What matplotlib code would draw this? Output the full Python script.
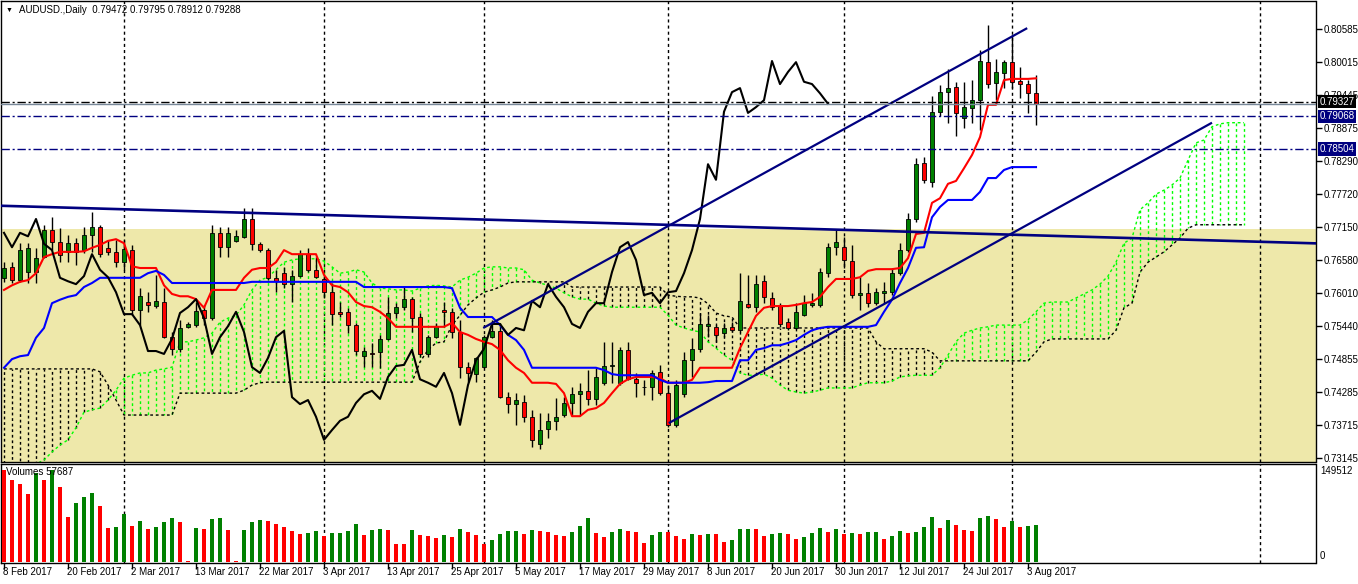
import numpy as np
import matplotlib
matplotlib.use("Agg")
import matplotlib.pyplot as plt
from matplotlib.collections import LineCollection

plt.rcParams['font.family'] = ['Liberation Sans', 'DejaVu Sans']

# AUDUSD daily candles, 8 Feb 2017 .. 4 Aug 2017
opens = [
    0.7627, 0.7646, 0.7623, 0.7637, 0.7637, 0.7663, 0.7710, 0.7689, 0.7672, 0.7687,
    0.7675, 0.7701, 0.7715, 0.7679, 0.7672, 0.7654, 0.7675, 0.7571, 0.7585, 0.7578,
    0.7585, 0.7524, 0.7504, 0.7542, 0.7545, 0.7571, 0.7557, 0.7705, 0.7680, 0.7691,
    0.7698, 0.7729, 0.7686, 0.7675, 0.7627, 0.7635, 0.7616, 0.7630, 0.7668, 0.7641,
    0.7625, 0.7602, 0.7568, 0.7568, 0.7545, 0.7491, 0.7496, 0.7498, 0.7521, 0.7566,
    0.7576, 0.7590, 0.7559, 0.7495, 0.7524, 0.7571, 0.7568, 0.7533, 0.7472, 0.7460,
    0.7472, 0.7524, 0.7535, 0.7420, 0.7408, 0.7412, 0.7386, 0.7339, 0.7365, 0.7379,
    0.7389, 0.7410, 0.7425, 0.7431, 0.7417, 0.7445, 0.7474, 0.7445, 0.7502, 0.7451,
    0.7438, 0.7438, 0.7464, 0.7427, 0.7372, 0.7425, 0.7484, 0.7504, 0.7543, 0.7542,
    0.7531, 0.7542, 0.7536, 0.7582, 0.7576, 0.7621, 0.7592, 0.7578, 0.7550, 0.7540,
    0.7562, 0.7580, 0.7580, 0.7635, 0.7680, 0.7680, 0.7656, 0.7597, 0.7601, 0.7583,
    0.7601, 0.7602, 0.7635, 0.7675, 0.7729, 0.7826, 0.7793, 0.7915, 0.7949, 0.7958,
    0.7904, 0.7922, 0.7935, 0.8001, 0.7965, 0.7982, 0.8001, 0.7968, 0.7963, 0.79472]
highs = [
    0.7654, 0.7654, 0.7687, 0.7687, 0.7679, 0.7719, 0.7732, 0.7713, 0.7701, 0.7696,
    0.7715, 0.7741, 0.7719, 0.7693, 0.7693, 0.7693, 0.7684, 0.7609, 0.7602, 0.7632,
    0.7609, 0.7533, 0.7554, 0.7550, 0.7585, 0.7580, 0.7719, 0.7715, 0.7715, 0.7710,
    0.7748, 0.7748, 0.7689, 0.7679, 0.7641, 0.7646, 0.7641, 0.7675, 0.7679, 0.7663,
    0.7628, 0.7618, 0.7585, 0.7575, 0.7549, 0.7507, 0.7514, 0.7528, 0.7594, 0.7583,
    0.7611, 0.7594, 0.7566, 0.7528, 0.7549, 0.7585, 0.7575, 0.7554, 0.7481, 0.7490,
    0.7528, 0.7554, 0.7549, 0.7429, 0.7427, 0.7424, 0.7398, 0.7393, 0.7393, 0.7419,
    0.7420, 0.7438, 0.7445, 0.7467, 0.7471, 0.7516, 0.7516, 0.7507, 0.7516, 0.7462,
    0.7450, 0.7467, 0.7476, 0.7441, 0.7450, 0.7498, 0.7523, 0.7566, 0.7562, 0.7545,
    0.7549, 0.7550, 0.7635, 0.7632, 0.7632, 0.7632, 0.7602, 0.7583, 0.7557, 0.7583,
    0.7597, 0.7601, 0.7644, 0.7687, 0.7710, 0.7698, 0.7684, 0.7628, 0.7618, 0.7609,
    0.7620, 0.7644, 0.7687, 0.7739, 0.7835, 0.7837, 0.7942, 0.7961, 0.7989, 0.7967,
    0.7967, 0.7970, 0.8022, 0.8065, 0.8006, 0.8005, 0.8048, 0.7993, 0.7970, 0.79795]
lows = [
    0.7620, 0.7618, 0.7620, 0.7618, 0.7618, 0.7661, 0.7675, 0.7654, 0.7654, 0.7649,
    0.7670, 0.7672, 0.7663, 0.7667, 0.7646, 0.7641, 0.7562, 0.7545, 0.7568, 0.7575,
    0.7523, 0.7493, 0.7498, 0.7540, 0.7542, 0.7545, 0.7554, 0.7663, 0.7663, 0.7689,
    0.7696, 0.7675, 0.7672, 0.7623, 0.7602, 0.7609, 0.7585, 0.7628, 0.7637, 0.7627,
    0.7592, 0.7545, 0.7559, 0.7531, 0.7493, 0.7472, 0.7472, 0.7471, 0.7519, 0.7557,
    0.7571, 0.7533, 0.7490, 0.7490, 0.7523, 0.7542, 0.7523, 0.7453, 0.7446, 0.7446,
    0.7471, 0.7523, 0.7419, 0.7393, 0.7372, 0.7377, 0.7334, 0.7330, 0.7349, 0.7363,
    0.7386, 0.7389, 0.7389, 0.7406, 0.7406, 0.7441, 0.7445, 0.7441, 0.7450, 0.7420,
    0.7424, 0.7415, 0.7424, 0.7368, 0.7368, 0.7420, 0.7455, 0.7498, 0.7524, 0.7516,
    0.7524, 0.7533, 0.7533, 0.7575, 0.7568, 0.7583, 0.7571, 0.7542, 0.7536, 0.7538,
    0.7561, 0.7576, 0.7576, 0.7628, 0.7667, 0.7644, 0.7592, 0.7571, 0.7576, 0.7580,
    0.7583, 0.7597, 0.7632, 0.7672, 0.7724, 0.7791, 0.7785, 0.7908, 0.7896, 0.7873,
    0.7887, 0.7896, 0.7883, 0.7956, 0.7935, 0.7956, 0.7956, 0.7939, 0.7913, 0.78912]
closes = [
    0.7644, 0.7623, 0.7675, 0.7679, 0.7661, 0.7710, 0.7689, 0.7667, 0.7687, 0.7672,
    0.7701, 0.7715, 0.7668, 0.7672, 0.7654, 0.7677, 0.7571, 0.7595, 0.7580, 0.7587,
    0.7524, 0.7504, 0.7540, 0.7547, 0.7569, 0.7557, 0.7705, 0.7680, 0.7705, 0.7699,
    0.7729, 0.7686, 0.7675, 0.7627, 0.7621, 0.7616, 0.7630, 0.7668, 0.7641, 0.7628,
    0.7602, 0.7564, 0.7564, 0.7545, 0.7500, 0.7500, 0.7495, 0.7521, 0.7566, 0.7576,
    0.7590, 0.7557, 0.7495, 0.7524, 0.7543, 0.7568, 0.7533, 0.7472, 0.7462, 0.7488,
    0.7524, 0.7535, 0.7420, 0.7408, 0.7415, 0.7386, 0.7346, 0.7363, 0.7379, 0.7386,
    0.7410, 0.7425, 0.7431, 0.7417, 0.7455, 0.7474, 0.7476, 0.7502, 0.7451, 0.7445,
    0.7438, 0.7462, 0.7427, 0.7372, 0.7441, 0.7484, 0.7504, 0.7547, 0.7547, 0.7528,
    0.7540, 0.7536, 0.7587, 0.7576, 0.7616, 0.7594, 0.7576, 0.7547, 0.7540, 0.7568,
    0.7583, 0.7583, 0.7637, 0.7680, 0.7689, 0.7658, 0.7597, 0.7601, 0.7583, 0.7602,
    0.7604, 0.7635, 0.7675, 0.7729, 0.7824, 0.7797, 0.7915, 0.7949, 0.7956, 0.7913,
    0.7923, 0.7935, 0.8003, 0.7963, 0.7984, 0.8001, 0.7967, 0.7963, 0.7947, 0.79288]
volumes = [
    141800, 126400, 120200, 104800, 137100, 126400, 141800, 115600, 69300, 90900,
    100200, 106300, 86300, 52400, 53900, 74000, 55500, 63200, 50900, 53900,
    61600, 67800, 61600, 800, 52400, 50900, 66300, 67800, 49300, 800,
    49300, 61600, 64700, 63200, 58600, 53900, 47800, 43900, 44700, 47800,
    40100, 44000, 44700, 47800, 58600, 41600, 49300, 50900, 49300, 27700,
    27000, 49300, 41600, 40100, 37000, 41600, 38500, 50900, 46200, 41600,
    27700, 33900, 43100, 47800, 48500, 43100, 49300, 47800, 47000, 41600,
    40100, 46200, 55500, 67800, 44700, 38500, 46200, 50900, 47800, 47000,
    29300, 41600, 46200, 45500, 40100, 35400, 43100, 41600, 43100, 42400,
    30800, 33900, 50900, 51600, 50900, 40100, 43100, 44700, 43100, 35400,
    38500, 44700, 52400, 46200, 50900, 43100, 44700, 43100, 46200, 46900,
    35400, 40100, 47800, 44700, 46200, 53900, 69300, 52400, 64700, 57000,
    49300, 47800, 67800, 70900, 66300, 53900, 63200, 53900, 55500, 57687]

# Ichimoku lines
tenkan = [
    0.7606, 0.7614, 0.7620, 0.7623, 0.7635, 0.7663, 0.7668, 0.7672, 0.7672, 0.7672,
    0.7673, 0.7679, 0.7684, 0.7691, 0.7694, 0.7687, 0.7647, 0.7644, 0.7644, 0.7644,
    0.7614, 0.7599, 0.7595, 0.7595, 0.7590, 0.7575, 0.7606, 0.7606, 0.7606, 0.7606,
    0.7627, 0.7641, 0.7644, 0.7644, 0.7654, 0.7675, 0.7668, 0.7668, 0.7668, 0.7668,
    0.7632, 0.7614, 0.7611, 0.7602, 0.7585, 0.7578, 0.7576, 0.7568, 0.7557, 0.7542,
    0.7542, 0.7542, 0.7542, 0.7542, 0.7542, 0.7542, 0.7549, 0.7533, 0.7528, 0.7521,
    0.7516, 0.7512, 0.7502, 0.7484, 0.7471, 0.7462, 0.7445, 0.7445, 0.7445, 0.7443,
    0.7427, 0.7387, 0.7387, 0.7398, 0.7401, 0.7410, 0.7427, 0.7443, 0.7451, 0.7455,
    0.7455, 0.7455, 0.7453, 0.7445, 0.7445, 0.7445, 0.7450, 0.7471, 0.7471, 0.7471,
    0.7471, 0.7471, 0.7505, 0.7533, 0.7561, 0.7575, 0.7578, 0.7578, 0.7578, 0.7580,
    0.7583, 0.7585, 0.7594, 0.7611, 0.7625, 0.7625, 0.7625, 0.7628, 0.7639, 0.7642,
    0.7642, 0.7642, 0.7644, 0.7661, 0.7703, 0.7705, 0.7757, 0.7765, 0.7790, 0.7795,
    0.7817, 0.7840, 0.7871, 0.7927, 0.7927, 0.7970, 0.7972, 0.7972, 0.7972, 0.7973]
kijun = [
    0.7471, 0.7486, 0.7491, 0.7493, 0.7523, 0.7540, 0.7583, 0.7589, 0.7594, 0.7597,
    0.7611, 0.7618, 0.7627, 0.7627, 0.7627, 0.7627, 0.7627, 0.7627, 0.7635, 0.7639,
    0.7632, 0.7618, 0.7618, 0.7618, 0.7618, 0.7618, 0.7618, 0.7618, 0.7618, 0.7618,
    0.7618, 0.7620, 0.7620, 0.7620, 0.7620, 0.7620, 0.7620, 0.7620, 0.7620, 0.7620,
    0.7620, 0.7620, 0.7620, 0.7620, 0.7620, 0.7611, 0.7611, 0.7611, 0.7611, 0.7611,
    0.7611, 0.7611, 0.7611, 0.7611, 0.7611, 0.7611, 0.7609, 0.7575, 0.7559, 0.7559,
    0.7559, 0.7559, 0.7545, 0.7528, 0.7519, 0.7502, 0.7471, 0.7471, 0.7471, 0.7471,
    0.7471, 0.7471, 0.7471, 0.7471, 0.7471, 0.7467, 0.7460, 0.7458, 0.7458, 0.7458,
    0.7458, 0.7458, 0.7450, 0.7445, 0.7445, 0.7445, 0.7445, 0.7445, 0.7446, 0.7448,
    0.7448, 0.7448, 0.7484, 0.7484, 0.7502, 0.7505, 0.7510, 0.7510, 0.7514, 0.7519,
    0.7528, 0.7536, 0.7540, 0.7542, 0.7542, 0.7542, 0.7542, 0.7542, 0.7542, 0.7545,
    0.7568, 0.7589, 0.7618, 0.7644, 0.7679, 0.7680, 0.7732, 0.7750, 0.7762, 0.7762,
    0.7762, 0.7762, 0.7776, 0.7800, 0.7800, 0.7814, 0.7819, 0.7819, 0.7819, 0.7819]
# senkou spans run 26 bars past the last candle
span_a = [
    0.7276, 0.7283, 0.7290, 0.7297, 0.7304, 0.7311, 0.7325, 0.7337, 0.7346, 0.7367,
    0.7394, 0.7398, 0.7401, 0.7415, 0.7432, 0.7453, 0.7458, 0.7462, 0.7462, 0.7467,
    0.7469, 0.7472, 0.7516, 0.7516, 0.7519, 0.7523, 0.7531, 0.7550, 0.7557, 0.7562,
    0.7580, 0.7606, 0.7623, 0.7628, 0.7641, 0.7654, 0.7658, 0.7660, 0.7660, 0.7660,
    0.7656, 0.7646, 0.7635, 0.7637, 0.7641, 0.7637, 0.7618, 0.7609, 0.7608, 0.7606,
    0.7606, 0.7604, 0.7609, 0.7613, 0.7614, 0.7613, 0.7611, 0.7623, 0.7628, 0.7635,
    0.7644, 0.7646, 0.7646, 0.7644, 0.7644, 0.7641, 0.7623, 0.7618, 0.7614, 0.7609,
    0.7601, 0.7594, 0.7590, 0.7590, 0.7583, 0.7578, 0.7576, 0.7576, 0.7576, 0.7576,
    0.7576, 0.7576, 0.7576, 0.7562, 0.7545, 0.7540, 0.7536, 0.7533, 0.7516, 0.7505,
    0.7493, 0.7484, 0.7462, 0.7458, 0.7458, 0.7460, 0.7453, 0.7441, 0.7432, 0.7429,
    0.7427, 0.7429, 0.7432, 0.7436, 0.7436, 0.7436, 0.7436, 0.7441, 0.7445, 0.7445,
    0.7445, 0.7448, 0.7455, 0.7457, 0.7458, 0.7458, 0.7458, 0.7471, 0.7493, 0.7516,
    0.7531, 0.7536, 0.7540, 0.7542, 0.7545, 0.7545, 0.7545, 0.7545, 0.7554, 0.7568,
    0.7583, 0.7585, 0.7585, 0.7585, 0.7592, 0.7599, 0.7606, 0.7616, 0.7630, 0.7654,
    0.7687, 0.7696, 0.7745, 0.7757, 0.7772, 0.7779, 0.7788, 0.7800, 0.7831, 0.7861,
    0.7866, 0.7889, 0.7894, 0.7896, 0.7896, 0.7896]
span_b = [
    0.7469, 0.7469, 0.7469, 0.7469, 0.7469, 0.7469, 0.7469, 0.7469, 0.7469, 0.7469,
    0.7469, 0.7469, 0.7464, 0.7441, 0.7415, 0.7389, 0.7389, 0.7389, 0.7389, 0.7389,
    0.7389, 0.7389, 0.7427, 0.7427, 0.7427, 0.7427, 0.7427, 0.7427, 0.7427, 0.7427,
    0.7432, 0.7441, 0.7445, 0.7446, 0.7446, 0.7446, 0.7446, 0.7446, 0.7446, 0.7446,
    0.7446, 0.7446, 0.7446, 0.7446, 0.7446, 0.7446, 0.7446, 0.7446, 0.7446, 0.7446,
    0.7446, 0.7446, 0.7481, 0.7502, 0.7514, 0.7516, 0.7545, 0.7562, 0.7580, 0.7592,
    0.7602, 0.7606, 0.7611, 0.7618, 0.7620, 0.7620, 0.7620, 0.7620, 0.7620, 0.7620,
    0.7620, 0.7611, 0.7611, 0.7611, 0.7611, 0.7611, 0.7611, 0.7611, 0.7611, 0.7611,
    0.7611, 0.7611, 0.7611, 0.7597, 0.7595, 0.7594, 0.7594, 0.7592, 0.7582, 0.7566,
    0.7561, 0.7559, 0.7540, 0.7540, 0.7540, 0.7540, 0.7540, 0.7540, 0.7540, 0.7540,
    0.7540, 0.7540, 0.7540, 0.7540, 0.7540, 0.7540, 0.7540, 0.7540, 0.7540, 0.7516,
    0.7504, 0.7504, 0.7504, 0.7504, 0.7504, 0.7504, 0.7498, 0.7483, 0.7483, 0.7483,
    0.7483, 0.7483, 0.7483, 0.7483, 0.7483, 0.7483, 0.7483, 0.7483, 0.7483, 0.7498,
    0.7516, 0.7521, 0.7521, 0.7521, 0.7521, 0.7521, 0.7521, 0.7521, 0.7521, 0.7536,
    0.7575, 0.7583, 0.7637, 0.7654, 0.7663, 0.7672, 0.7684, 0.7696, 0.7713, 0.7719,
    0.7719, 0.7719, 0.7719, 0.7719, 0.7719, 0.7719]

date_labels = ['8 Feb 2017', '20 Feb 2017', '2 Mar 2017', '13 Mar 2017', '22 Mar 2017',
               '3 Apr 2017', '13 Apr 2017', '25 Apr 2017', '5 May 2017', '17 May 2017',
               '29 May 2017', '8 Jun 2017', '20 Jun 2017', '30 Jun 2017', '12 Jul 2017',
               '24 Jul 2017', '3 Aug 2017']
date_label_bars = list(range(0, 129, 8))
month_start_bars = [15, 40, 60, 83, 105, 126, 157]
price_ticks = [0.80585, 0.80015, 0.79445, 0.78875, 0.78290, 0.77720, 0.77150,
               0.76580, 0.76010, 0.75440, 0.74855, 0.74285, 0.73715, 0.73145]

# drawn objects (bar index, price)
upper_channel = [(59.9, 0.7540), (127.9, 0.8060)]
lower_channel = [(83.1, 0.7375), (151.0, 0.7896)]
long_line = [(-0.5, 0.7752), (155.75, 0.7690)]
zone_top = 0.7711
level_black = 0.79327
levels_navy = [0.79068, 0.78504]
bid_price = 0.79288
vol_scale_max = 149512

GREEN, RED, NAVY, LIME = '#008000', '#ff0000', '#000080', '#00ff00'

W, H = 1358, 584
fig = plt.figure(figsize=(W / 100, H / 100), dpi=100)


def axes_px(left, top, right, bottom):
    return fig.add_axes([left / W, 1 - bottom / H, (right - left) / W, (bottom - top) / H])


ax = axes_px(0.5, 0.5, 1315.5, 462)
axv = axes_px(0.5, 464, 1315.5, 563)

# one bar = 8 px, bar 0 centred at x = 4 px; one px = 0.00017343 in price
xlim = ((0.5 - 4) / 8, (1315.5 - 4) / 8)
px_price = 0.00017343
ax.set_xlim(*xlim)
axv.set_xlim(*xlim)
ax.set_ylim(0.81088 - 462 * px_price, 0.81088 - 0.5 * px_price)
axv.set_ylim(-1 * vol_scale_max / 97, 98 * vol_scale_max / 97)

o, hi, lo, c = (np.array(v) for v in (opens, highs, lows, closes))
x = np.arange(len(c))
up = c >= o

# background zone
ax.axhspan(0.70, zone_top, color='#eee8aa', lw=0, zorder=0)

for b in month_start_bars:
    for a in (ax, axv):
        a.axvline(b, color='black', lw=1, ls=(0, (2.2, 2.2)), zorder=1)

# Ichimoku cloud
segs = [[(i, a), (i, b)] for i, (a, b) in enumerate(zip(span_a, span_b))]
cols = [LIME if a > b else 'black' for a, b in zip(span_a, span_b)]
ax.add_collection(LineCollection(segs, colors=cols, linewidths=1,
                                 linestyles=[(0, (2, 2))], zorder=2))
xs = np.arange(len(span_a))
ax.plot(xs, span_a, color=LIME, lw=1, ls=(0, (2, 2)), zorder=2)
ax.plot(xs, span_b, color='black', lw=1, ls=(0, (2, 2)), zorder=2)

# candles
ax.vlines(x, lo, hi, color='black', lw=1, zorder=3)
ax.bar(x, np.abs(c - o), bottom=np.minimum(o, c), width=0.55,
       color=np.where(up, GREEN, RED), edgecolor='black', linewidth=0.6, zorder=4)

# tenkan, kijun, chikou
ax.plot(x, tenkan, color=RED, lw=1.5, zorder=5)
ax.plot(x, kijun, color='#0000ff', lw=1.5, zorder=5)
ax.plot(x[:-26], c[26:], color='black', lw=1.5, zorder=5)

# trend lines and levels
for line in (upper_channel, lower_channel):
    ax.plot(*zip(*line), color=NAVY, lw=1.6, zorder=6, solid_capstyle='butt')
ax.axline(long_line[0], long_line[1], color=NAVY, lw=1.9, zorder=6)
ax.axhline(bid_price, color='#778899', lw=1, zorder=6)
ax.axhline(level_black, color='black', lw=1, ls=(0, (6, 2, 1.5, 2)), zorder=6)
for lv in levels_navy:
    ax.axhline(lv, color=NAVY, lw=1, ls=(0, (6, 2, 1.5, 2)), zorder=6)

# volumes (green when above previous bar)
vcol = [RED] + [GREEN if volumes[i] > volumes[i - 1] else RED for i in range(1, len(volumes))]
axv.bar(x, volumes, width=0.5, color=vcol, zorder=3)
axv.text(5 / 1315, 1 - 8 / 99, 'Volumes %d' % volumes[-1], transform=axv.transAxes,
         fontsize=7, va='center', ha='left', zorder=7)

# axes cosmetics
for a in (ax, axv):
    for s in a.spines.values():
        s.set_color('black')
        s.set_linewidth(1)
ax.set_xticks([])
ax.yaxis.tick_right()
ax.set_yticks(price_ticks)
ax.set_yticklabels(['%.5f' % p for p in price_ticks])
ax.tick_params(axis='y', direction='out', length=4, width=1, pad=2, labelsize=7)
axv.set_yticks([])
axv.set_xticks(date_label_bars)
axv.set_xticklabels([''] * len(date_label_bars))
axv.tick_params(axis='x', direction='out', length=4, width=1)

for b, lab in zip(date_label_bars, date_labels):
    fig.text((4 + 8 * b - 1) / W, 1 - 572 / H, lab, fontsize=7, ha='left', va='center')

fig.text(1320 / W, 1 - 471 / H, str(vol_scale_max), fontsize=7, ha='left', va='center')
fig.text(1320 / W, 1 - 556 / H, '0', fontsize=7, ha='left', va='center')


def level_tag(price, face):
    ypx = (0.81088 - price) / px_price
    fig.text(1319.5 / W, 1 - ypx / H, '%.5f' % price, fontsize=7, color='white',
             ha='left', va='center', zorder=10,
             bbox=dict(boxstyle='square,pad=0.18', fc=face, ec='none'))


level_tag(level_black, 'black')
for lv in levels_navy:
    level_tag(lv, NAVY)

# header
fig.text(6 / W, 1 - 10 / H, '\u25bc', fontsize=5, ha='left', va='center')
fig.text(19 / W, 1 - 10 / H, 'AUDUSD.,Daily  %.5f %.5f %.5f %.5f'
         % (opens[-1], highs[-1], lows[-1], closes[-1]),
         fontsize=7, ha='left', va='center')

fig.savefig('out.png', dpi=100, facecolor='white')
